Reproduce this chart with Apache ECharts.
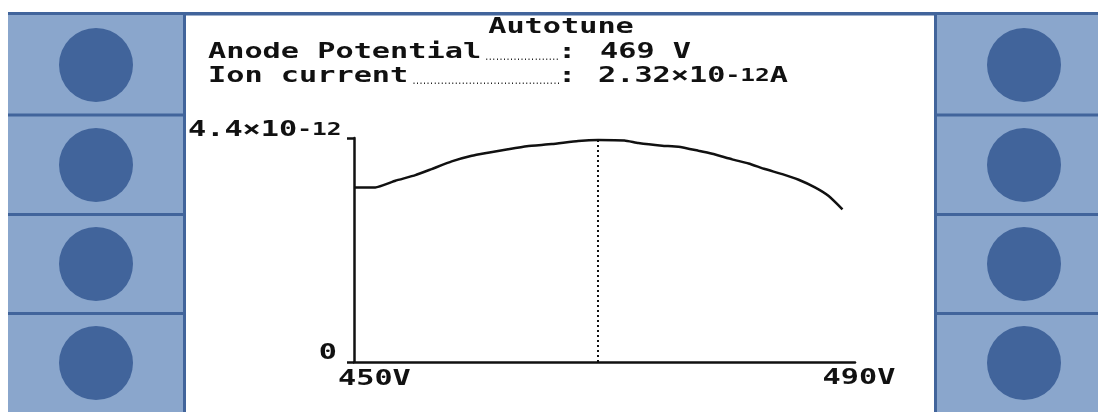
<!DOCTYPE html>
<html>
<head>
<meta charset="utf-8">
<script src="https://cdn.jsdelivr.net/npm/echarts@6/dist/echarts.min.js"></script>
<style>
html,body{margin:0;padding:0;background:#fff;}
#chart{width:1098px;height:412px;}
</style>
</head>
<body>
<div id="chart"></div>
<script>
// ---- data (current in units of 10^-12 A) ----
const voltage = [450.0, 451.7, 453.3, 454.9, 456.2, 457.8, 459.4, 460.7, 462.3, 463.8, 465.8, 467.9, 469.5, 471.6, 472.7, 474.6, 475.9, 477.5, 478.6, 480.2, 481.5, 482.8, 484.2, 485.5, 486.8, 487.9, 489.0];
const current = [3.43, 3.43, 3.56, 3.67, 3.79, 3.94, 4.05, 4.11, 4.18, 4.24, 4.28, 4.34, 4.36, 4.35, 4.30, 4.25, 4.23, 4.15, 4.09, 3.98, 3.90, 3.79, 3.69, 3.58, 3.43, 3.26, 3.00];
const peakVoltage = 469.5;
const xTicks = [450, 490];
const xTickLabels = ['450V', '490V'];
const yTicks = [0, 4.4];
const yTickLabels = ['0', '4.4×10{s|-12}'];
const titleText = 'Autotune';
const rowLabels = ['Anode Potential', 'Ion current'];
const rowValues = ['469 V', '2.32×10{s|-12}A'];

const DARK = '#41649b', FILL = '#8aa6cc', INK = '#111';
const FONT = '"DejaVu Sans Mono", monospace';
const FS = 21, SX = 1.44;

const chart = echarts.init(document.getElementById('chart'), null, {renderer: 'canvas'});

chart.setOption({
  animation: false,
  backgroundColor: '#fff',
  grid: {left: 354, right: 243, top: 138, bottom: 50},
  xAxis: {
    type: 'value', min: xTicks[0], max: xTicks[1], interval: xTicks[1] - xTicks[0],
    axisLine: {show: true, lineStyle: {color: INK, width: 2.5}},
    axisTick: {show: false}, axisLabel: {show: false}, splitLine: {show: false}
  },
  yAxis: {
    type: 'value', min: yTicks[0], max: yTicks[1], interval: yTicks[1] - yTicks[0],
    axisLine: {show: true, lineStyle: {color: INK, width: 2.5}},
    axisTick: {show: true, length: 7, lineStyle: {color: INK, width: 2.5}},
    axisLabel: {show: false}, splitLine: {show: false}
  },
  series: [{
    type: 'line',
    data: voltage.map((v, i) => [v, current[i]]),
    showSymbol: false,
    smooth: 0.15,
    lineStyle: {color: INK, width: 2.5},
    markLine: {
      symbol: 'none', silent: true, label: {show: false},
      lineStyle: {color: INK, width: 2, type: [2, 3]},
      data: [[{coord: [peakVoltage, yTicks[0]]}, {coord: [peakVoltage, yTicks[1]]}]]
    }
  }]
});

function txt(text, x, y, align, vAlign, opts) {
  opts = opts || {};
  const fs = opts.fs || FS;
  return {
    type: 'text', x: x, y: y, scaleX: opts.sx || SX, z: 10,
    style: {
      text: text, fill: INK, font: 'bold ' + fs + 'px ' + FONT,
      align: align, verticalAlign: vAlign,
      rich: {s: {font: 'bold ' + Math.round(fs * 0.82) + 'px ' + FONT, fill: INK}}
    }
  };
}

const g = [];
// top bar
g.push({type: 'rect', shape: {x: 8, y: 12, width: 1090, height: 3.5}, style: {fill: DARK}});
// side panels
[[8, 176, 183], [937, 161, 934]].forEach(([px, pw, bx]) => {
  g.push({type: 'rect', shape: {x: px, y: 15, width: pw, height: 397}, style: {fill: FILL}});
  g.push({type: 'rect', shape: {x: bx, y: 12, width: 3, height: 400}, style: {fill: DARK}});
  [113.5, 213, 312].forEach(sy => {
    g.push({type: 'rect', shape: {x: px, y: sy, width: pw, height: 3}, style: {fill: DARK}});
  });
});
[65, 165, 264, 363].forEach(cy => {
  g.push({type: 'circle', shape: {cx: 96, cy: cy, r: 37}, style: {fill: DARK}});
  g.push({type: 'circle', shape: {cx: 1024, cy: cy, r: 37}, style: {fill: DARK}});
});

// header texts
g.push(txt(titleText, 561, 28, 'center', 'middle'));
const rowY = [53, 77];
rowLabels.forEach((lab, i) => {
  g.push(txt(lab, 208, rowY[i], 'left', 'middle'));
  const labEnd = 208 + lab.length * FS * 0.602 * SX + 4;
  const nDots = Math.max(0, Math.floor((560 - labEnd) / 3.5));
  g.push(txt('.'.repeat(nDots), labEnd, rowY[i] + 9, 'left', 'bottom', {fs: 9, sx: 0.65}));
  g.push(txt(':', 567, rowY[i], 'center', 'middle'));
  g.push(txt(rowValues[i], i === 0 ? 600 : 598, rowY[i], 'left', 'middle'));
});

// axis tick labels positioned through the chart's own scales
const p0 = chart.convertToPixel({gridIndex: 0}, [xTicks[0], yTicks[0]]);
const p1 = chart.convertToPixel({gridIndex: 0}, [xTicks[1], yTicks[1]]);
g.push(txt(xTickLabels[0], p0[0] - 16, p0[1] + 18, 'left', 'middle'));
g.push(txt(xTickLabels[1], p1[0] + 4, p0[1] + 17, 'center', 'middle'));
g.push(txt(yTickLabels[0], p0[0] - 17, p0[1] - 8, 'right', 'middle'));
g.push(txt(yTickLabels[1], 188, p1[1] - 7, 'left', 'middle'));

chart.setOption({graphic: g});
</script>
</body>
</html>
